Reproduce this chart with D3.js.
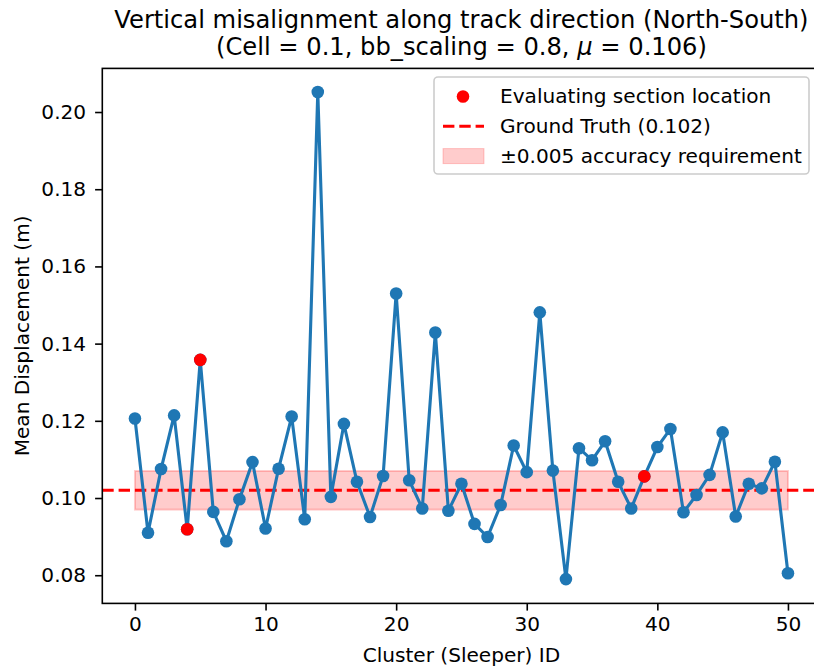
<!DOCTYPE html>
<html>
<head>
<meta charset="utf-8">
<script src="https://cdn.jsdelivr.net/npm/d3@7"></script>
<style>
  body { margin: 0; background: #fff; }
  svg { display: block; font-family: "DejaVu Sans", sans-serif; }
</style>
</head>
<body>
<div id="wrapper"></div>
<script>

// data
const clusterIds = d3.range(0, 51)
const meanDisp = [
  0.1206, 0.0910, 0.1075, 0.1214, 0.0919, 0.1358, 0.0964, 0.0888, 0.0997, 0.1093,
  0.0921, 0.1076, 0.1211, 0.0945, 0.2052, 0.1003, 0.1192, 0.1042, 0.0951, 0.1057,
  0.1530, 0.1046, 0.0973, 0.1429, 0.0967, 0.1037, 0.0933, 0.0899, 0.0982, 0.1136,
  0.1067, 0.1481, 0.1071, 0.0790, 0.1129, 0.1098, 0.1147, 0.1042, 0.0973, 0.1056,
  0.1132, 0.1179, 0.0963, 0.1008, 0.1060, 0.1170, 0.0952, 0.1037, 0.1025, 0.1094,
  0.0805
]
const sectionIds = [4, 5, 39]
const groundTruth = 0.102
const tolerance = 0.005
const xTicks = [0, 10, 20, 30, 40, 50]
const yTicks = [0.08, 0.10, 0.12, 0.14, 0.16, 0.18, 0.20]
const legendLabels = [
  "Evaluating section location",
  "Ground Truth (0.102)",
  "\u00b10.005 accuracy requirement"
]

function drawChart() {

  // figure is ~145 dpi, so 1pt ~ 2px
  const fs = 20.1
  let dimensions = {
    width: 814,
    height: 668,
    margin: { top: 68.4, left: 102.3 },
    boundedWidth: 718.3,
    boundedHeight: 535,
  }

  const wrapper = d3.select("#wrapper")
    .append("svg")
      .attr("width", dimensions.width)
      .attr("height", dimensions.height)

  const bounds = wrapper.append("g")
      .attr("transform", `translate(${dimensions.margin.left},${dimensions.margin.top})`)

  // scales (matplotlib style 5% padding)
  const xScale = d3.scaleLinear()
    .domain([-2.5, 52.5])
    .range([0, dimensions.boundedWidth])
  const yScale = d3.scaleLinear()
    .domain([0.0727, 0.2113])
    .range([dimensions.boundedHeight, 0])

  // tolerance band
  bounds.append("rect")
      .attr("x", xScale(0))
      .attr("width", xScale(50) - xScale(0))
      .attr("y", yScale(groundTruth + tolerance))
      .attr("height", yScale(groundTruth - tolerance) - yScale(groundTruth + tolerance))
      .attr("fill", "rgba(255,0,0,0.2)")
      .attr("stroke", "rgba(255,0,0,0.2)")
      .attr("stroke-width", 2)

  // ground truth line
  bounds.append("line")
      .attr("x1", 0)
      .attr("x2", dimensions.boundedWidth)
      .attr("y1", yScale(groundTruth))
      .attr("y2", yScale(groundTruth))
      .attr("stroke", "red")
      .attr("stroke-width", 3.1)
      .attr("stroke-dasharray", "11.4,4.9")

  // series
  const line = d3.line()
    .x((d, i) => xScale(clusterIds[i]))
    .y(d => yScale(d))

  bounds.append("path")
      .attr("d", line(meanDisp))
      .attr("fill", "none")
      .attr("stroke", "#1f77b4")
      .attr("stroke-width", 3.1)

  bounds.selectAll("circle.pt")
    .data(meanDisp)
    .join("circle")
      .attr("class", "pt")
      .attr("cx", (d, i) => xScale(clusterIds[i]))
      .attr("cy", d => yScale(d))
      .attr("r", 6.3)
      .attr("fill", "#1f77b4")

  bounds.selectAll("circle.sec")
    .data(sectionIds)
    .join("circle")
      .attr("class", "sec")
      .attr("cx", d => xScale(d))
      .attr("cy", d => yScale(meanDisp[d]))
      .attr("r", 6.3)
      .attr("fill", "red")

  // axes
  const xAxis = d3.axisBottom(xScale)
    .tickValues(xTicks)
    .tickSize(7.2)
    .tickPadding(6)
  const yAxis = d3.axisLeft(yScale)
    .tickValues(yTicks)
    .tickFormat(d3.format(".2f"))
    .tickSize(7.2)
    .tickPadding(9)

  const xg = bounds.append("g")
      .attr("transform", `translate(0,${dimensions.boundedHeight})`)
      .call(xAxis)
  const yg = bounds.append("g").call(yAxis)

  for (const g of [xg, yg]) {
    g.selectAll("text").attr("font-size", fs).attr("fill", "#000")
      .attr("font-family", "DejaVu Sans")
    g.selectAll("line").attr("stroke", "#000").attr("stroke-width", 1.6)
    g.select(".domain").remove()
  }

  // frame
  bounds.append("rect")
      .attr("width", dimensions.boundedWidth)
      .attr("height", dimensions.boundedHeight)
      .attr("fill", "none")
      .attr("stroke", "#000")
      .attr("stroke-width", 1.6)

  // labels
  const cx = dimensions.boundedWidth / 2
  bounds.append("text")
      .attr("x", cx)
      .attr("y", dimensions.boundedHeight + 59)
      .attr("text-anchor", "middle")
      .attr("font-size", fs)
      .text("Cluster (Sleeper) ID")

  bounds.append("text")
      .attr("transform", `translate(${-dimensions.margin.left + 28.5},${dimensions.boundedHeight / 2}) rotate(-90)`)
      .attr("text-anchor", "middle")
      .attr("font-size", fs)
      .text("Mean Displacement (m)")

  const title = bounds.append("text")
      .attr("text-anchor", "middle")
      .attr("font-size", 24.2)
  title.append("tspan")
      .attr("x", cx).attr("y", -40.5)
      .text("Vertical misalignment along track direction (North-South)")
  const t2 = title.append("tspan")
      .attr("x", cx).attr("y", -13.5)
  t2.append("tspan").text("(Cell = 0.1, bb_scaling = 0.8, ")
  t2.append("tspan").attr("font-style", "italic").text("\u03bc")
  t2.append("tspan").text(" = 0.106)")

  // legend
  const legend = wrapper.append("g")
  legend.append("rect")
      .attr("x", 434).attr("y", 77)
      .attr("width", 375).attr("height", 97)
      .attr("rx", 4)
      .attr("fill", "rgba(255,255,255,0.8)")
      .attr("stroke", "#cccccc")
      .attr("stroke-width", 1.6)

  const rows = legend.selectAll("g.row")
    .data(legendLabels)
    .join("g")
      .attr("class", "row")
      .attr("transform", (d, i) => `translate(0,${96.5 + i * 29.8})`)

  rows.append("text")
      .attr("x", 500)
      .attr("dy", "0.33em")
      .attr("font-size", fs)
      .text(d => d)

  rows.filter((d, i) => i === 0).append("circle")
      .attr("cx", 463).attr("r", 6.3).attr("fill", "red")
  rows.filter((d, i) => i === 1).append("line")
      .attr("x1", 443).attr("x2", 484)
      .attr("stroke", "red").attr("stroke-width", 3.1)
      .attr("stroke-dasharray", "11.4,4.9")
  rows.filter((d, i) => i === 2).append("rect")
      .attr("x", 443).attr("y", -7.5).attr("width", 41).attr("height", 15)
      .attr("fill", "rgba(255,0,0,0.2)")
      .attr("stroke", "rgba(255,0,0,0.2)")
}

drawChart()
</script>
</body>
</html>
